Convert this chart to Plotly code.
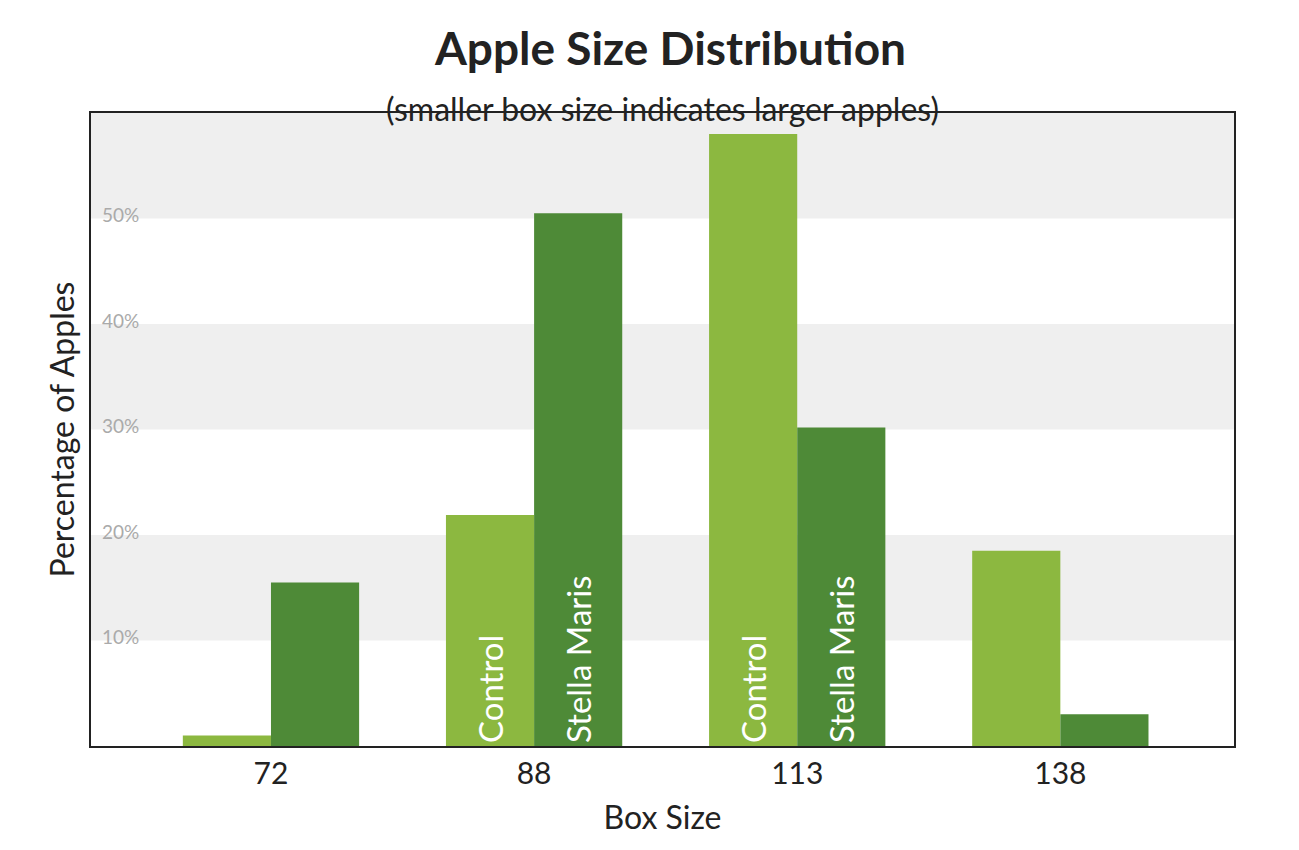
import plotly.graph_objects as go

categories = ["72", "88", "113", "138"]
control = [1.0, 21.9, 58.0, 18.5]
stella = [15.5, 50.5, 30.2, 3.0]
control_text = ["", "Control", "Control", ""]
stella_text = ["", "Stella Maris", "Stella Maris", ""]
ytick_vals = [10, 20, 30, 40, 50]

xs = list(range(len(categories)))
fig = go.Figure()
for lo in [10, 30, 50]:
    fig.add_shape(type="rect", xref="paper", yref="y", x0=0, x1=1, y0=lo, y1=lo + 10,
                  fillcolor="#efefef", line_width=0, layer="below")
common = dict(textposition="inside", insidetextanchor="start", textangle=-90,
              textfont=dict(color="white", size=33, family="Lato"), width=0.335,
              marker_line_width=0)
fig.add_bar(x=xs, y=control, marker_color="#8cb840", text=control_text, offset=-0.335, **common)
fig.add_bar(x=xs, y=stella, marker_color="#4e8a37", text=stella_text, offset=0, **common)
for v in ytick_vals:
    fig.add_annotation(xref="paper", yref="y", x=0.008, y=v, text=f"{v}%", showarrow=False,
                       xanchor="left", yanchor="middle", yshift=4,
                       font=dict(size=19, color="#aaaaaa", family="Lato"))
fig.add_annotation(xref="paper", yref="paper", x=0.5, y=1, yshift=26, text="(smaller box size indicates larger apples)",
                   showarrow=False, font=dict(size=32, color="#222", family="Lato"))
fig.update_layout(
    width=1299, height=850, barmode="overlay", showlegend=False,
    plot_bgcolor="white", paper_bgcolor="white",
    margin=dict(l=83, r=73, t=105, b=112),
    title=dict(text="<b>Apple Size Distribution</b>", x=0.51, xanchor="center", y=0.952, yanchor="middle",
               font=dict(size=46, color="#222", family="Lato")),
    xaxis=dict(tickvals=xs, ticktext=categories, range=[-0.684, 3.66], showgrid=False,
               tickfont=dict(size=30, color="#222", family="Lato"),
               title=dict(text="Box Size", standoff=18, font=dict(size=32, color="#222", family="Lato")),
               showline=True, mirror=True, linecolor="#222", linewidth=2, ticks=""),
    yaxis=dict(range=[0, 60], showticklabels=False, showgrid=False, zeroline=False,
               title=dict(text="Percentage of Apples", standoff=5, font=dict(size=32, color="#222", family="Lato")),
               showline=True, mirror=True, linecolor="#222", linewidth=2, ticks=""),
)
fig.write_html("out.html")
